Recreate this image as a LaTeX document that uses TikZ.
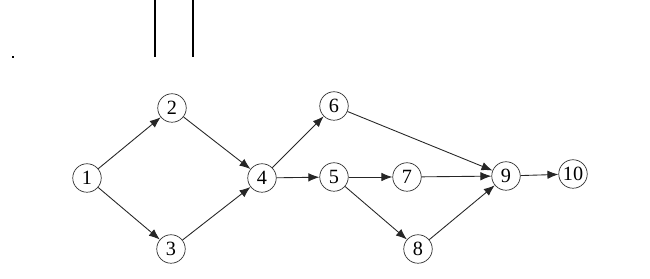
\documentclass[tikz,border=0pt]{standalone}
\usepackage{fontspec}
\setmainfont{Liberation Serif}
\usetikzlibrary{arrows.meta}

\begin{document}
\begin{tikzpicture}[x=0.02cm, y=-0.02cm, >={Latex[length=2.2mm,width=1.7mm]},
  ev/.style={circle, draw=black!80, thin, minimum size=5.7mm, inner sep=0pt,
             font=\fontsize{11.5}{12}\selectfont},
  act/.style={->, draw=black!85, line width=0.5pt}]
  \useasboundingbox (0,0) rectangle (650,279);
  % stray marks at the top
  \draw[line width=0.6pt] (155,0) -- (155,57);
  \draw[line width=0.6pt] (193,0) -- (193,57);
  \fill (11.5,56) rectangle (13.5,58);
  % events
  \node[ev] (n1) at (87,178) {1};
  \node[ev] (n2) at (172,108) {2};
  \node[ev] (n3) at (171,249) {3};
  \node[ev] (n4) at (262,178) {4};
  \node[ev] (n5) at (334,177) {5};
  \node[ev] (n6) at (334,106) {6};
  \node[ev] (n7) at (407,177) {7};
  \node[ev] (n8) at (418,249) {8};
  \node[ev] (n9) at (506,176) {9};
  \node[ev] (n10) at (573,174) {10};
  % activities
  \draw[act] (n1)--(n2); \draw[act] (n1)--(n3);
  \draw[act] (n2)--(n4); \draw[act] (n3)--(n4);
  \draw[act] (n4)--(n6); \draw[act] (n4)--(n5);
  \draw[act] (n5)--(n7); \draw[act] (n5)--(n8);
  \draw[act] (n6)--(n9); \draw[act] (n7)--(n9); \draw[act] (n8)--(n9);
  \draw[act] (n9)--(n10);
\end{tikzpicture}
\end{document}
